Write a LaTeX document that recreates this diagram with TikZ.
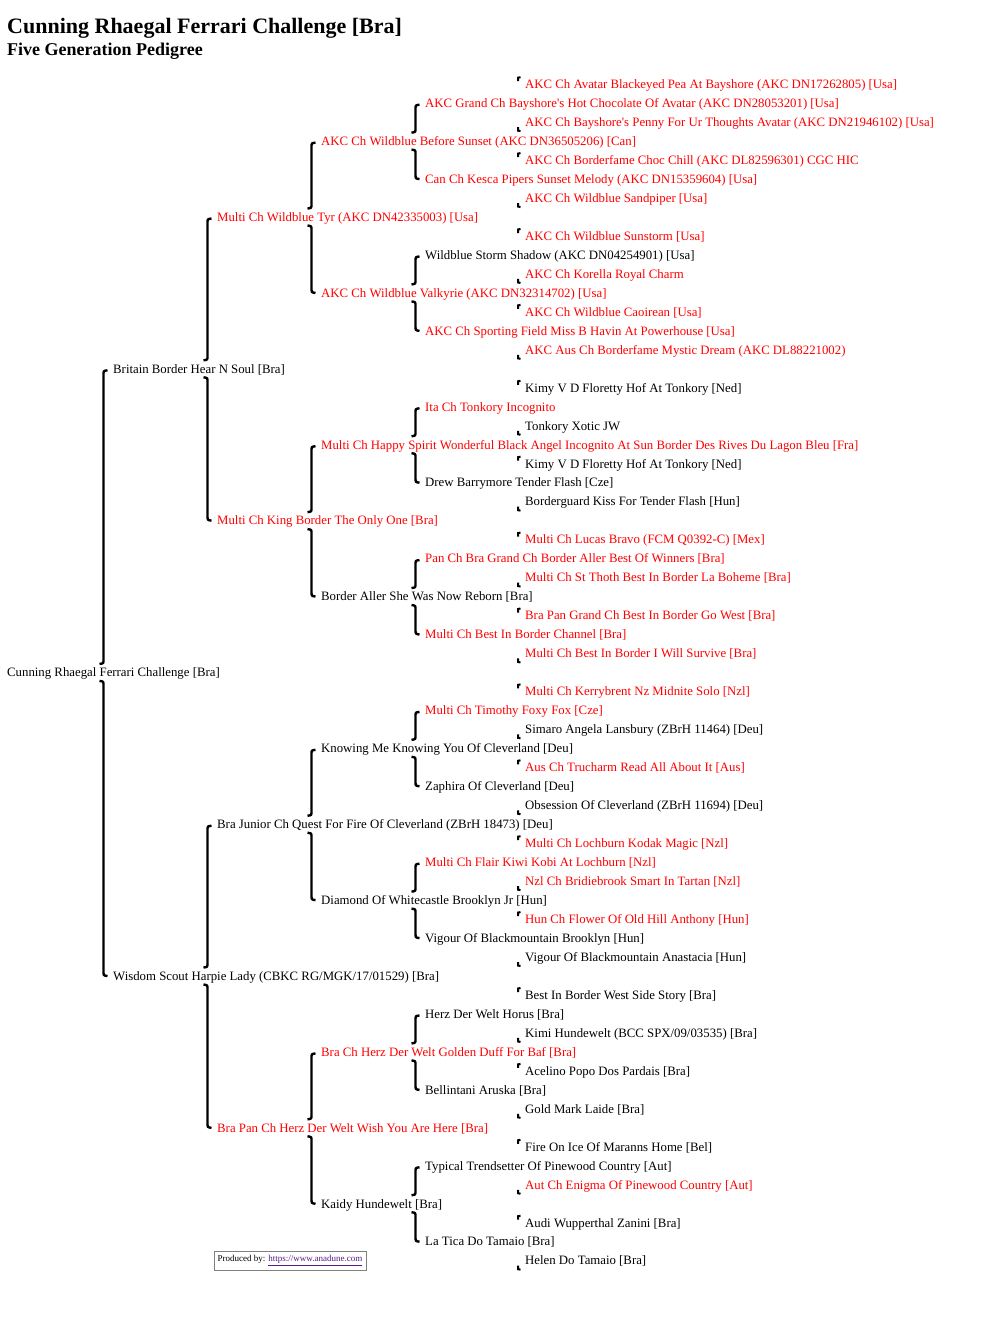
\documentclass[tikz,border=0pt]{standalone}
\usepackage{fontspec}
\setmainfont{Liberation Serif}
\usetikzlibrary{calc}
\definecolor{champ}{RGB}{255,0,0}
\definecolor{plain}{RGB}{0,0,0}
\definecolor{linkc}{RGB}{85,26,139}
\tikzset{
  person/.style={anchor=west, inner sep=0pt, text height=10.6pt, text depth=2pt, font=\fontsize{12.8}{15}\selectfont},
  bracestroke/.style={line width=2.4pt, black},
  tickstroke/.style={line width=2pt, black},
}
\newcommand\pers[5]{\node[person,text=#4] (#1) at (#2,{84.2+37.95*#3}) {#5};}
\newcommand\pbrace[3]{%
 \draw[bracestroke] ($(#2.west)+(-5.5,1.5)$) .. controls ($(#2.west)+(-9.5,2)$) .. ($(#2.west)+(-9.5,6)$) -- ($(#2.west|-#1.west)+(-9.5,-13)$) .. controls ($(#2.west|-#1.west)+(-9.5,-9)$) .. ($(#2.west|-#1.west)+(-13.5,-8.5)$);
 \draw[bracestroke] ($(#3.west|-#1.west)+(-13.5,8.5)$) .. controls ($(#3.west|-#1.west)+(-9.5,9)$) .. ($(#3.west|-#1.west)+(-9.5,13)$) -- ($(#3.west)+(-9.5,-5)$) .. controls ($(#3.west)+(-9.5,-0.5)$) .. ($(#3.west)+(-5.5,0)$);}
\newcommand\ptick[3]{%
 \draw[tickstroke] ($(#2.west)+(-7,-3)$) -- ($(#2.west)+(-7,-6.5)$) -- ($(#2.west)+(-4.5,-7)$);
 \draw[tickstroke] ($(#3.west)+(-7,5)$) -- ($(#3.west)+(-7,8.5)$) -- ($(#3.west)+(-4.5,9)$);}
\begin{document}
\begin{tikzpicture}[x=1pt,y=-1pt]
\fill[white] (0,0) rectangle (1008,1320);
\useasboundingbox (0,0) rectangle (1008,1320);
\node[anchor=base west, inner sep=0pt, font=\bfseries\fontsize{22}{26}\selectfont] (title) at (7,33) {Cunning Rhaegal Ferrari Challenge [Bra]};
\node[anchor=base west, inner sep=0pt, font=\bfseries\fontsize{18}{22}\selectfont] (subtitle) at (7,55) {Five Generation Pedigree};
% generation 1
\pers{root}{7}{15.5}{plain}{Cunning Rhaegal Ferrari Challenge [Bra]}
% generation 2
\pers{a0}{113}{7.5}{plain}{Britain Border Hear N Soul [Bra]}
\pers{a1}{113}{23.5}{plain}{Wisdom Scout Harpie Lady (CBKC RG/MGK/17/01529) [Bra]}
% generation 3
\pers{b0}{217}{3.5}{champ}{Multi Ch Wildblue Tyr (AKC DN42335003) [Usa]}
\pers{b1}{217}{11.5}{champ}{Multi Ch King Border The Only One [Bra]}
\pers{b2}{217}{19.5}{plain}{Bra Junior Ch Quest For Fire Of Cleverland (ZBrH 18473) [Deu]}
\pers{b3}{217}{27.5}{champ}{Bra Pan Ch Herz Der Welt Wish You Are Here [Bra]}
% generation 4
\pers{c0}{321}{1.5}{champ}{AKC Ch Wildblue Before Sunset (AKC DN36505206) [Can]}
\pers{c1}{321}{5.5}{champ}{AKC Ch Wildblue Valkyrie (AKC DN32314702) [Usa]}
\pers{c2}{321}{9.5}{champ}{Multi Ch Happy Spirit Wonderful Black Angel Incognito At Sun Border Des Rives Du Lagon Bleu [Fra]}
\pers{c3}{321}{13.5}{plain}{Border Aller She Was Now Reborn [Bra]}
\pers{c4}{321}{17.5}{plain}{Knowing Me Knowing You Of Cleverland [Deu]}
\pers{c5}{321}{21.5}{plain}{Diamond Of Whitecastle Brooklyn Jr [Hun]}
\pers{c6}{321}{25.5}{champ}{Bra Ch Herz Der Welt Golden Duff For Baf [Bra]}
\pers{c7}{321}{29.5}{plain}{Kaidy Hundewelt [Bra]}
% generation 5
\pers{d0}{425}{0.5}{champ}{AKC Grand Ch Bayshore\textquotesingle s Hot Chocolate Of Avatar (AKC DN28053201) [Usa]}
\pers{d1}{425}{2.5}{champ}{Can Ch Kesca Pipers Sunset Melody (AKC DN15359604) [Usa]}
\pers{d2}{425}{4.5}{plain}{Wildblue Storm Shadow (AKC DN04254901) [Usa]}
\pers{d3}{425}{6.5}{champ}{AKC Ch Sporting Field Miss B Havin At Powerhouse [Usa]}
\pers{d4}{425}{8.5}{champ}{Ita Ch Tonkory Incognito}
\pers{d5}{425}{10.5}{plain}{Drew Barrymore Tender Flash [Cze]}
\pers{d6}{425}{12.5}{champ}{Pan Ch Bra Grand Ch Border Aller Best Of Winners [Bra]}
\pers{d7}{425}{14.5}{champ}{Multi Ch Best In Border Channel [Bra]}
\pers{d8}{425}{16.5}{champ}{Multi Ch Timothy Foxy Fox [Cze]}
\pers{d9}{425}{18.5}{plain}{Zaphira Of Cleverland [Deu]}
\pers{d10}{425}{20.5}{champ}{Multi Ch Flair Kiwi Kobi At Lochburn [Nzl]}
\pers{d11}{425}{22.5}{plain}{Vigour Of Blackmountain Brooklyn [Hun]}
\pers{d12}{425}{24.5}{plain}{Herz Der Welt Horus [Bra]}
\pers{d13}{425}{26.5}{plain}{Bellintani Aruska [Bra]}
\pers{d14}{425}{28.5}{plain}{Typical Trendsetter Of Pinewood Country [Aut]}
\pers{d15}{425}{30.5}{plain}{La Tica Do Tamaio [Bra]}
% generation 6
\pers{e0}{525}{0}{champ}{AKC Ch Avatar Blackeyed Pea At Bayshore (AKC DN17262805) [Usa]}
\pers{e1}{525}{1}{champ}{AKC Ch Bayshore\textquotesingle s Penny For Ur Thoughts Avatar (AKC DN21946102) [Usa]}
\pers{e2}{525}{2}{champ}{AKC Ch Borderfame Choc Chill (AKC DL82596301) CGC HIC}
\pers{e3}{525}{3}{champ}{AKC Ch Wildblue Sandpiper [Usa]}
\pers{e4}{525}{4}{champ}{AKC Ch Wildblue Sunstorm [Usa]}
\pers{e5}{525}{5}{champ}{AKC Ch Korella Royal Charm}
\pers{e6}{525}{6}{champ}{AKC Ch Wildblue Caoirean [Usa]}
\pers{e7}{525}{7}{champ}{AKC Aus Ch Borderfame Mystic Dream (AKC DL88221002)}
\pers{e8}{525}{8}{plain}{Kimy V D Floretty Hof At Tonkory [Ned]}
\pers{e9}{525}{9}{plain}{Tonkory Xotic JW}
\pers{e10}{525}{10}{plain}{Kimy V D Floretty Hof At Tonkory [Ned]}
\pers{e11}{525}{11}{plain}{Borderguard Kiss For Tender Flash [Hun]}
\pers{e12}{525}{12}{champ}{Multi Ch Lucas Bravo (FCM Q0392-C) [Mex]}
\pers{e13}{525}{13}{champ}{Multi Ch St Thoth Best In Border La Boheme [Bra]}
\pers{e14}{525}{14}{champ}{Bra Pan Grand Ch Best In Border Go West [Bra]}
\pers{e15}{525}{15}{champ}{Multi Ch Best In Border I Will Survive [Bra]}
\pers{e16}{525}{16}{champ}{Multi Ch Kerrybrent Nz Midnite Solo [Nzl]}
\pers{e17}{525}{17}{plain}{Simaro Angela Lansbury (ZBrH 11464) [Deu]}
\pers{e18}{525}{18}{champ}{Aus Ch Trucharm Read All About It [Aus]}
\pers{e19}{525}{19}{plain}{Obsession Of Cleverland (ZBrH 11694) [Deu]}
\pers{e20}{525}{20}{champ}{Multi Ch Lochburn Kodak Magic [Nzl]}
\pers{e21}{525}{21}{champ}{Nzl Ch Bridiebrook Smart In Tartan [Nzl]}
\pers{e22}{525}{22}{champ}{Hun Ch Flower Of Old Hill Anthony [Hun]}
\pers{e23}{525}{23}{plain}{Vigour Of Blackmountain Anastacia [Hun]}
\pers{e24}{525}{24}{plain}{Best In Border West Side Story [Bra]}
\pers{e25}{525}{25}{plain}{Kimi Hundewelt (BCC SPX/09/03535) [Bra]}
\pers{e26}{525}{26}{plain}{Acelino Popo Dos Pardais [Bra]}
\pers{e27}{525}{27}{plain}{Gold Mark Laide [Bra]}
\pers{e28}{525}{28}{plain}{Fire On Ice Of Maranns Home [Bel]}
\pers{e29}{525}{29}{champ}{Aut Ch Enigma Of Pinewood Country [Aut]}
\pers{e30}{525}{30}{plain}{Audi Wupperthal Zanini [Bra]}
\pers{e31}{525}{31}{plain}{Helen Do Tamaio [Bra]}
% braces
\pbrace{root}{a0}{a1}
\pbrace{a0}{b0}{b1}
\pbrace{a1}{b2}{b3}
\foreach \k in {0,...,3} {\pgfmathtruncatemacro\s{2*\k}\pgfmathtruncatemacro\d{2*\k+1}\pbrace{b\k}{c\s}{c\d}}
\foreach \k in {0,...,7} {\pgfmathtruncatemacro\s{2*\k}\pgfmathtruncatemacro\d{2*\k+1}\pbrace{c\k}{d\s}{d\d}}
\foreach \k in {0,...,15} {\pgfmathtruncatemacro\s{2*\k}\pgfmathtruncatemacro\d{2*\k+1}\ptick{d\k}{e\s}{e\d}}
% footer
\node[draw={rgb,255:red,128;green,128;blue,128}, line width=1pt, minimum width=152pt, minimum height=19pt, inner sep=0pt, font=\fontsize{9}{11}\selectfont] (footer) at (290,1260.5) {Produced by: \textcolor{linkc}{\underline{https://www.anadune.com}}};
\end{tikzpicture}
\end{document}
